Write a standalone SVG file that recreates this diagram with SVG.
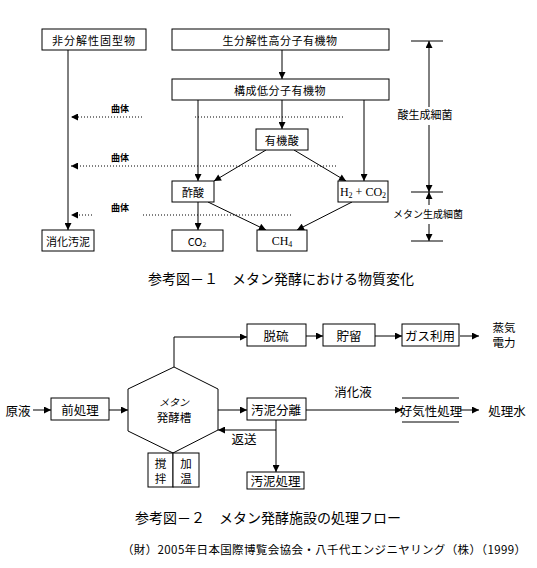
<svg xmlns="http://www.w3.org/2000/svg" width="537" height="568" viewBox="0 0 537 568">
<defs>
<style>
.bx{fill:#fff;stroke:#000;stroke-width:1}
.ln{fill:none;stroke:#000;stroke-width:1}
.dt{fill:none;stroke:#000;stroke-width:1;stroke-dasharray:1 2}
.t{font-family:"Noto Sans CJK JP","Noto Sans",sans-serif;fill:#000;text-anchor:middle;dominant-baseline:central}
.s10{font-size:10px}
.s11{font-size:11px}
.s12{font-size:12.5px}
.sv{font-size:11.5px}
.s9{font-size:9px;font-weight:bold}
.sf{font-family:"Liberation Serif",serif;font-size:12px;fill:#000;text-anchor:middle;dominant-baseline:central}
.cap{font-family:"Noto Sans CJK JP",sans-serif;font-size:14px;fill:#000}
.cred{font-family:"Noto Sans CJK JP",sans-serif;font-size:11.5px;fill:#000}
</style>
<marker id="ah" viewBox="0 0 8 8" refX="8" refY="4" markerWidth="8" markerHeight="7" markerUnits="userSpaceOnUse" orient="auto"><path d="M0,0 L8,4 L0,8 z" fill="#000"/></marker>
</defs>

<!-- connectors -->
<g id="connectors">
<!-- figure 1 -->
<line class="ln" x1="282" y1="50" x2="282" y2="79" marker-end="url(#ah)"/>
<line class="ln" x1="282" y1="100" x2="282" y2="129" marker-end="url(#ah)"/>
<line class="ln" x1="68" y1="50" x2="68" y2="230" marker-end="url(#ah)"/>
<line class="ln" x1="198" y1="100" x2="198" y2="181" marker-end="url(#ah)"/>
<line class="ln" x1="364" y1="100" x2="364" y2="181" marker-end="url(#ah)"/>
<line class="ln" x1="266" y1="150" x2="214" y2="181" marker-end="url(#ah)"/>
<line class="ln" x1="294" y1="150" x2="346" y2="181" marker-end="url(#ah)"/>
<line class="ln" x1="208" y1="202" x2="266" y2="230" marker-end="url(#ah)"/>
<line class="ln" x1="352" y1="202" x2="297" y2="230" marker-end="url(#ah)"/>
<line class="ln" x1="198" y1="202" x2="198" y2="230" marker-end="url(#ah)"/>
<!-- dotted -->
<line class="dt" x1="142" y1="117" x2="71" y2="117" marker-end="url(#ah)"/>
<line class="dt" x1="195" y1="117" x2="343" y2="117"/>
<line class="dt" x1="336" y1="166" x2="71" y2="166" marker-end="url(#ah)"/>
<line class="dt" x1="92" y1="215" x2="71" y2="215" marker-end="url(#ah)"/>
<line class="dt" x1="143" y1="215" x2="292" y2="215"/>
<!-- scale -->
<line class="ln" x1="411" y1="41" x2="443" y2="41"/>
<line class="ln" x1="429" y1="107" x2="429" y2="41" marker-end="url(#ah)"/>
<line class="ln" x1="429" y1="125" x2="429" y2="192" marker-end="url(#ah)"/>
<line class="ln" x1="411" y1="192" x2="443" y2="192"/>
<line class="ln" x1="429" y1="205" x2="429" y2="192" marker-end="url(#ah)"/>
<line class="ln" x1="429" y1="224" x2="429" y2="241" marker-end="url(#ah)"/>
<line class="ln" x1="411" y1="241" x2="443" y2="241"/>
<!-- figure 2 -->
<line class="ln" x1="33" y1="410" x2="51" y2="410" marker-end="url(#ah)"/>
<line class="ln" x1="109" y1="410" x2="128" y2="410" marker-end="url(#ah)"/>
<polyline class="ln" points="174,367 174,337 247,337" marker-end="url(#ah)"/>
<line class="ln" x1="306" y1="336" x2="323" y2="336" marker-end="url(#ah)"/>
<line class="ln" x1="375" y1="336" x2="402" y2="336" marker-end="url(#ah)"/>
<line class="ln" x1="460" y1="336" x2="479" y2="336" marker-end="url(#ah)"/>
<line class="ln" x1="218" y1="410" x2="247" y2="410" marker-end="url(#ah)"/>
<line class="ln" x1="306" y1="410" x2="402" y2="410" marker-end="url(#ah)"/>
<line class="ln" x1="460" y1="410" x2="479" y2="410" marker-end="url(#ah)"/>
<line class="ln" x1="276" y1="420" x2="276" y2="472" marker-end="url(#ah)"/>
<line class="ln" x1="276" y1="430" x2="218" y2="430" marker-end="url(#ah)"/>
</g>

<!-- figure 1 nodes -->
<g id="n-hibunkai"><rect class="bx" x="42" y="29" width="104" height="21"/><text class="t s11" x="94" y="40" letter-spacing="1">非分解性固型物</text></g>
<g id="n-koubunshi"><rect class="bx" x="172" y="29" width="217" height="21"/><text class="t s11" x="280" y="40" letter-spacing="0.5">生分解性高分子有機物</text></g>
<g id="n-teibunshi"><rect class="bx" x="172" y="79" width="217" height="21"/><text class="t s11" x="280" y="90" letter-spacing="0.5">構成低分子有機物</text></g>
<g id="n-yukisan"><rect class="bx" x="256" y="129" width="52" height="21"/><text class="t s11" x="282" y="140" letter-spacing="0.5">有機酸</text></g>
<g id="n-sakusan"><rect class="bx" x="172" y="181" width="42" height="21"/><text class="t s11" x="193" y="192">酢酸</text></g>
<g id="n-h2co2"><rect class="bx" x="338" y="181" width="50" height="21"/><text class="sf" x="363" y="192">H<tspan font-size="8" dy="3">2</tspan><tspan dy="-3"> + CO</tspan><tspan font-size="8" dy="3">2</tspan></text></g>
<g id="n-shoka"><rect class="bx" x="42" y="230" width="52" height="21"/><text class="t s11" x="68" y="241">消化汚泥</text></g>
<g id="n-co2"><rect class="bx" x="172" y="230" width="51" height="21"/><text class="t s11" x="197" y="241">CO<tspan font-size="7" dy="3">2</tspan></text></g>
<g id="n-ch4"><rect class="bx" x="257" y="230" width="50" height="21"/><text class="sf" x="282" y="241">CH<tspan font-size="8" dy="3">4</tspan></text></g>
<g id="labels1">
<text class="t s9" x="120" y="108">曲体</text>
<text class="t s9" x="120" y="157">曲体</text>
<text class="t s9" x="120" y="207">曲体</text>
<text class="t s11" x="425" y="114">酸生成細菌</text>
<text class="t s10" x="428" y="213">メタン生成細菌</text>
<text class="cap" x="148" y="284">参考図－１　メタン発酵における物質変化</text>
</g>

<!-- figure 2 nodes -->
<text class="t s12" x="18" y="410">原液</text>
<g id="n-maeshori"><rect class="bx" x="51" y="398" width="58" height="22"/><text class="t s12" x="80" y="409">前処理</text></g>
<g id="n-tank"><polygon class="bx" points="174,367 218,389 218,430 173,453 128,431 128,389"/><text class="t s10" x="174" y="401" font-style="italic">メタン</text><text class="t sv" x="174" y="417">発酵槽</text></g>
<g id="n-kakuhan"><rect class="bx" x="148" y="453" width="25" height="34"/><text class="t sv" x="160.5" y="462.5">撹</text><text class="t sv" x="160.5" y="477.5">拌</text></g>
<g id="n-kaon"><rect class="bx" x="173" y="453" width="26" height="34"/><text class="t sv" x="186" y="462.5">加</text><text class="t sv" x="186" y="477.5">温</text></g>
<g id="n-datsuryu"><rect class="bx" x="247" y="324" width="59" height="22"/><text class="t s12" x="276" y="335">脱硫</text></g>
<g id="n-choryu"><rect class="bx" x="323" y="324" width="52" height="22"/><text class="t s12" x="349" y="335">貯留</text></g>
<g id="n-gas"><rect class="bx" x="402" y="324" width="57" height="22"/><text class="t s12" x="430" y="335">ガス利用</text></g>
<g id="n-power"><text class="t sv" x="504" y="327">蒸気</text><text class="t sv" x="504" y="342">電力</text></g>
<g id="n-bunri"><rect class="bx" x="247" y="398" width="59" height="22"/><text class="t s12" x="276" y="409">汚泥分離</text></g>
<g id="n-koki"><line class="ln" x1="402" y1="398" x2="459" y2="398"/><line class="ln" x1="402" y1="422" x2="459" y2="422"/><text class="t s12" x="431" y="410">好気性処理</text></g>
<g id="n-shorisui"><text class="t s12" x="507" y="410">処理水</text></g>
<g id="n-odeishori"><rect class="bx" x="247" y="472" width="57" height="17"/><text class="t s12" x="275.5" y="480.5">汚泥処理</text></g>
<g id="labels2">
<text class="t s12" x="353" y="391">消化液</text>
<text class="t s12" x="244" y="438">返送</text>
<text class="cap" x="135" y="523">参考図－２　メタン発酵施設の処理フロー</text>
<text class="cred" x="122" y="554" textLength="404" lengthAdjust="spacing">（財）2005年日本国際博覧会協会・八千代エンジニヤリング（株）（1999）</text>
</g>
</svg>
